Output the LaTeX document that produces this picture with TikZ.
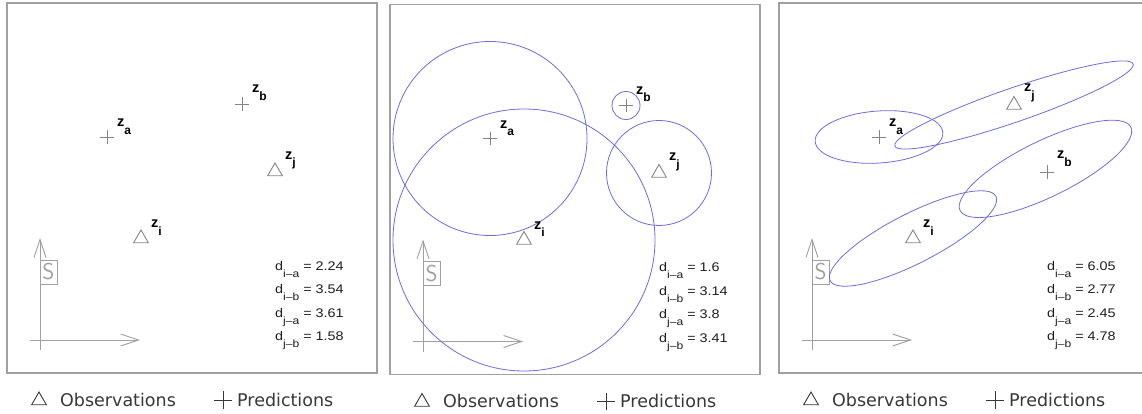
\documentclass[tikz,border=0pt]{standalone}
\usepackage{fontspec}
\setmainfont{Liberation Sans}
\newfontfamily\plotfont[FakeStretch=1.15]{Liberation Sans}
\newfontfamily\keyfont{DejaVu Sans}
\usetikzlibrary{arrows.meta,positioning,calc,shapes.geometric,shapes.misc}
\definecolor{boxgrey}{HTML}{A0A0A0}
\definecolor{markgrey}{HTML}{858585}
\definecolor{ringblue}{HTML}{6C6CE2}
\definecolor{keyink}{HTML}{383838}
\definecolor{textink}{HTML}{1E1E1E}
\newcommand{\zsub}[1]{z\raisebox{-7.5pt}{\fontsize{12}{12}\selectfont #1}}
\newcommand{\dval}[2]{d\raisebox{-7pt}{\fontsize{10.5}{10.5}\selectfont #1} = #2}
\tikzset{
  panelbox/.style={draw=boxgrey, line width=1.2pt},
  axisarr/.style={-{Straight Barb[length=18pt,width=12pt]}, draw=boxgrey, line width=0.9pt},
  sbox/.style={draw=boxgrey, line width=0.9pt, text=boxgrey, minimum width=17pt,
               minimum height=24pt, inner sep=0pt, font=\sffamily\fontsize{23}{23}\selectfont},
  obs/.style={draw=markgrey, regular polygon, regular polygon sides=3, minimum size=17pt,
              inner sep=0pt, line width=0.9pt},
  pred/.style={draw=markgrey, cross out, rotate=45, minimum size=8.5pt, inner sep=0pt,
               line width=0.9pt},
  keyobs/.style={obs, draw=keyink},
  keypred/.style={pred, draw=keyink, minimum size=11.5pt},
  zlab/.style={anchor=base west, inner sep=0pt, font=\bfseries\fontsize{14.5}{14.5}\selectfont},
  dlab/.style={anchor=base west, inner sep=0pt, text=textink,
               font=\plotfont\fontsize{12.5}{12.5}\selectfont},
  keytext/.style={anchor=base west, inner sep=0pt, text=keyink,
                  font=\keyfont\fontsize{17.5}{17.5}\selectfont},
  ring/.style={draw=ringblue, line width=0.8pt}}
% frame, axes and key of one panel, #1 = panel tag
\newcommand{\panelbase}[1]{%
  \draw[panelbox] (7,3) rectangle (377,373);
  \coordinate (ybot#1) at (40,350);
  \coordinate (ytop#1) at (40,238);
  \coordinate (xbeg#1) at (30,340);
  \coordinate (xend#1) at (140,340);
  \draw[axisarr] (ybot#1) -- (ytop#1);
  \draw[axisarr] (xbeg#1) -- (xend#1);
  \node[sbox] (s#1) at (48.5,272) {S};
  \node[keyobs] (kobs#1) at (39,400.5) {};
  \node[keytext] (tobs#1) at (60,406) {Observations};
  \node[keypred] (kpred#1) at (223,400) {};
  \node[keytext] (tpred#1) at (237,406) {Predictions};}

\begin{document}
\begin{tikzpicture}[x=1pt, y=-1pt]
  \useasboundingbox (0,0) rectangle (1142,414);
  \clip (0,0) rectangle (1142,414);

  % panel 1: points only
  \panelbase{1}
  \node[pred] (a1) at (107,137) {};
  \node[pred] (b1) at (242,104) {};
  \node[obs] (j1) at (275,171.5) {};
  \node[obs] (i1) at (141,238.5) {};
  \node[zlab] (la1) at ([shift={(10,-10)}]a1.center) {\zsub{a}};
  \node[zlab] (lb1) at ([shift={(10,-11)}]b1.center) {\zsub{b}};
  \node[zlab] (lj1) at ([shift={(10,-12)}]j1.center) {\zsub{j}};
  \node[zlab] (li1) at ([shift={(10,-11)}]i1.center) {\zsub{i}};
  \node[dlab] (d1ia) at (275,270) {\dval{i–a}{2.24}};
  \node[dlab] (d1ib) at (275,293.5) {\dval{i–b}{3.54}};
  \node[dlab] (d1ja) at (275,317) {\dval{j–a}{3.61}};
  \node[dlab] (d1jb) at (275,340.5) {\dval{j–b}{1.58}};

  % panel 2: circles
  \begin{scope}[shift={(383,1.5)}]
    \panelbase{2}
    \node[pred] (a2) at (107,137) {};
    \node[pred] (b2) at (243,104) {};
    \node[obs] (j2) at (276,171.5) {};
    \node[obs] (i2) at (141,238.5) {};
    \draw[ring] (a2) circle[radius=97];
    \draw[ring] (i2) circle[radius=131];
    \draw[ring] (b2) circle[radius=14];
    \draw[ring] (j2) circle[radius=52.5];
    \node[zlab] (la2) at ([shift={(10,-10)}]a2.center) {\zsub{a}};
    \node[zlab] (lb2) at ([shift={(10,-11)}]b2.center) {\zsub{b}};
    \node[zlab] (lj2) at ([shift={(10,-12)}]j2.center) {\zsub{j}};
    \node[zlab] (li2) at ([shift={(10,-11)}]i2.center) {\zsub{i}};
    \node[dlab] (d2ia) at (276,270) {\dval{i–a}{1.6}};
    \node[dlab] (d2ib) at (276,293.5) {\dval{i–b}{3.14}};
    \node[dlab] (d2ja) at (276,317) {\dval{j–a}{3.8}};
    \node[dlab] (d2jb) at (276,340.5) {\dval{j–b}{3.41}};
  \end{scope}

  % panel 3: ellipses
  \begin{scope}[shift={(772,0)}]
    \panelbase{3}
    \node[pred] (a3) at (107,137) {};
    \node[obs] (j3) at (242,105) {};
    \node[pred] (b3) at (275,172) {};
    \node[obs] (i3) at (141,238.5) {};
    \draw[ring, rotate around={4:(a3)}] (a3) ellipse[x radius=64, y radius=26];
    \draw[ring, rotate around={19:(j3)}] (j3) ellipse[x radius=126, y radius=17];
    \draw[ring, rotate around={26:(b3)}] ([yshift=3.5pt]b3.center) ellipse[x radius=95, y radius=28];
    \draw[ring, rotate around={27:(i3)}] (i3) ellipse[x radius=93, y radius=25];
    \node[zlab] (la3) at ([shift={(10,-10)}]a3.center) {\zsub{a}};
    \node[zlab] (lj3) at ([shift={(10,-13)}]j3.center) {\zsub{j}};
    \node[zlab] (lb3) at ([shift={(10,-13)}]b3.center) {\zsub{b}};
    \node[zlab] (li3) at ([shift={(10,-11)}]i3.center) {\zsub{i}};
    \node[dlab] (d3ia) at (275,270) {\dval{i–a}{6.05}};
    \node[dlab] (d3ib) at (275,293.5) {\dval{i–b}{2.77}};
    \node[dlab] (d3ja) at (275,317) {\dval{j–a}{2.45}};
    \node[dlab] (d3jb) at (275,340.5) {\dval{j–b}{4.78}};
  \end{scope}
\end{tikzpicture}
\end{document}
